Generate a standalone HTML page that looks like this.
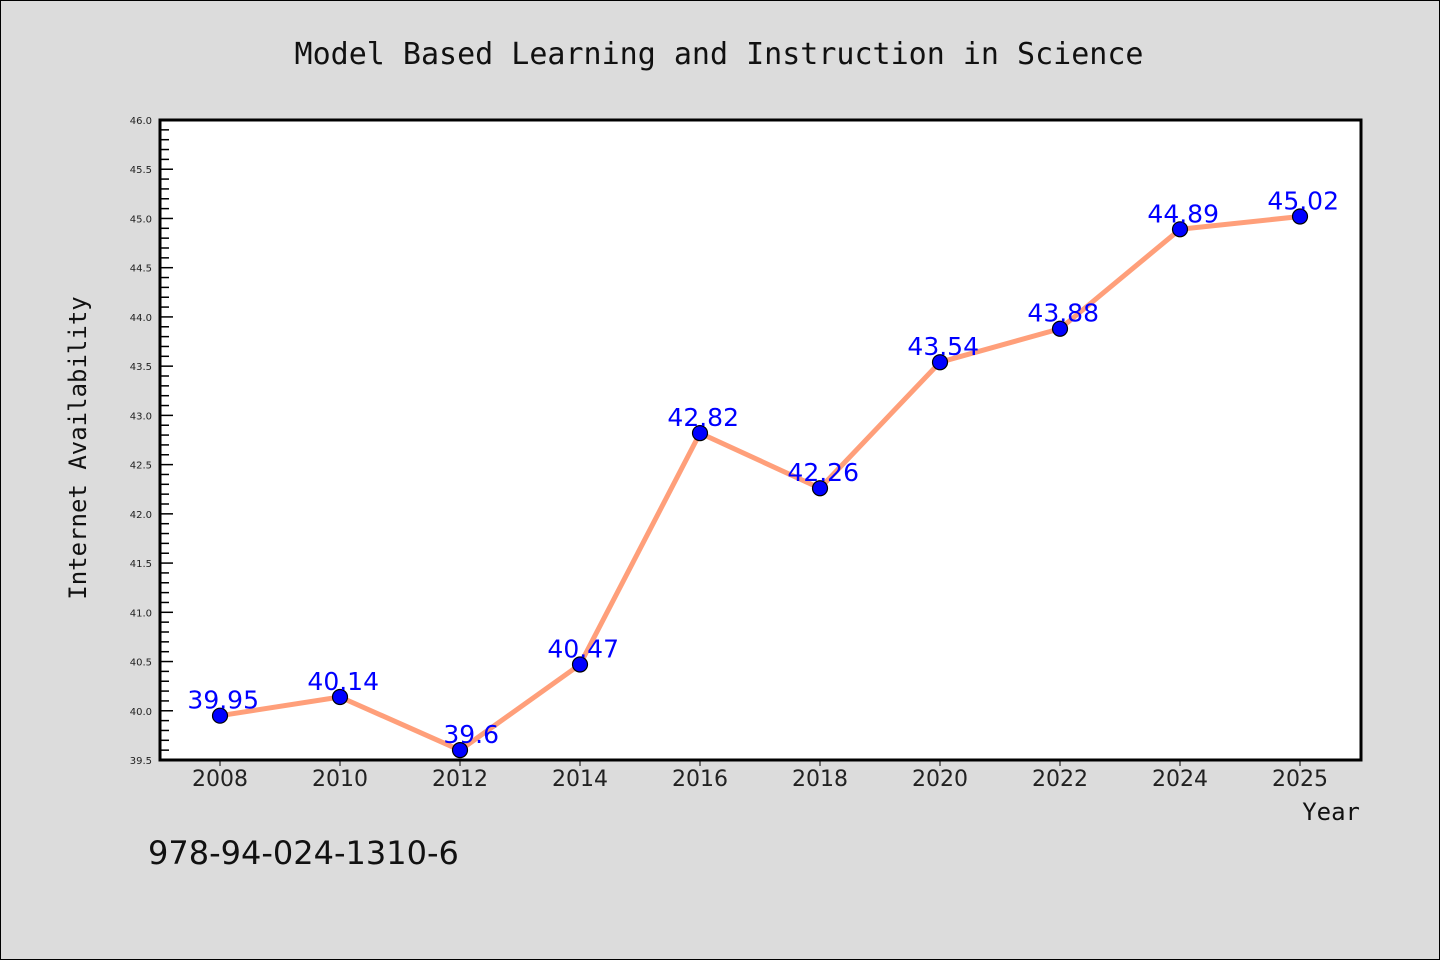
<!DOCTYPE html>
<html><head><meta charset="utf-8"><style>
html,body{margin:0;padding:0;background:#dcdcdc;}
svg{display:block;}
</style></head><body>
<svg width="1440" height="960" xmlns="http://www.w3.org/2000/svg">
<rect x="0.5" y="0.5" width="1439" height="959" fill="#dcdcdc" stroke="#000" stroke-width="1"/>
<text x="719" y="64" text-anchor="middle" font-family="'DejaVu Sans Mono','Liberation Mono',monospace" font-size="30" fill="#111">Model Based Learning and Instruction in Science</text>
<rect x="160" y="120" width="1201" height="640" fill="#fff"/>
<g id="ticks"></g>
<rect x="160" y="120" width="1201" height="640" fill="none" stroke="#000" stroke-width="3"/>
<g id="marks"></g>
<text x="86" y="448" transform="rotate(-90 86 448)" text-anchor="middle" font-family="'DejaVu Sans Mono','Liberation Mono',monospace" font-size="24" fill="#111">Internet Availability</text>
<text x="1360" y="820" text-anchor="end" font-family="'DejaVu Sans Mono','Liberation Mono',monospace" font-size="24" fill="#111">Year</text>
<text x="148" y="864" font-family="'DejaVu Sans','Liberation Sans',sans-serif" font-size="32" fill="#111">978-94-024-1310-6</text>
</svg>
<script>
const categories = ["2008","2010","2012","2014","2016","2018","2020","2022","2024","2025"];
const values = [39.95,40.14,39.6,40.47,42.82,42.26,43.54,43.88,44.89,45.02];
const valueLabels = ["39.95","40.14","39.6","40.47","42.82","42.26","43.54","43.88","44.89","45.02"];
const yTicks = ["39.5","40.0","40.5","41.0","41.5","42.0","42.5","43.0","43.5","44.0","44.5","45.0","45.5","46.0"];
const NS="http://www.w3.org/2000/svg";
const plotX0=160,plotW=1200,yTop=120,yBot=760,ymin=39.5,ymax=46;
const xs=i=>plotX0+plotW/categories.length*(i+0.5);
const ys=v=>yBot-(v-ymin)/(ymax-ymin)*(yBot-yTop);
function mk(t,a,p){const e=document.createElementNS(NS,t);for(const k in a)e.setAttribute(k,a[k]);p.appendChild(e);return e;}
const tg=document.getElementById('ticks'),mg=document.getElementById('marks');
for(let k=0;k<=65;k++){const v=ymin+k*0.1,y=ys(v),maj=k%5===0;
 const l=mk('line',{x1:160,x2:160+(maj?13:9),y1:y,y2:y,stroke:'#000','stroke-width':1.5},tg);
 
 }
yTicks.forEach(s=>{const t=mk('text',{x:152,y:ys(parseFloat(s))+4,'text-anchor':'end','font-family':"'DejaVu Sans',sans-serif",'font-size':10,fill:'#222'},tg);t.textContent=s;
 
 });
categories.forEach((c,i)=>{const x=xs(i);
 const l=mk('line',{x1:x,x2:x,y1:760,y2:766,stroke:'#000','stroke-width':1},tg);
 
 
 const t=mk('text',{x:x,y:786,'text-anchor':'middle','font-family':"'DejaVu Sans','Liberation Sans',sans-serif",'font-size':22,fill:'#222'},tg);t.textContent=c;
 
 });
const pl=mk('polyline',{points:values.map((v,i)=>xs(i)+','+ys(v)).join(' '),fill:'none',stroke:'#ff9f7a','stroke-width':5,'stroke-linejoin':'round'},mg);


values.forEach((v,i)=>{const c=mk('circle',{cx:xs(i),cy:ys(v),r:7.5,fill:'#0000ff',stroke:'#000','stroke-width':1.2},mg);
 
 
 const t=mk('text',{x:xs(i)+39,y:ys(v)-7,'text-anchor':'end','font-family':"'DejaVu Sans','Liberation Sans',sans-serif",'font-size':25,fill:'#0000ff'},mg);t.textContent=valueLabels[i];
 
 });
</script>
</body></html>
